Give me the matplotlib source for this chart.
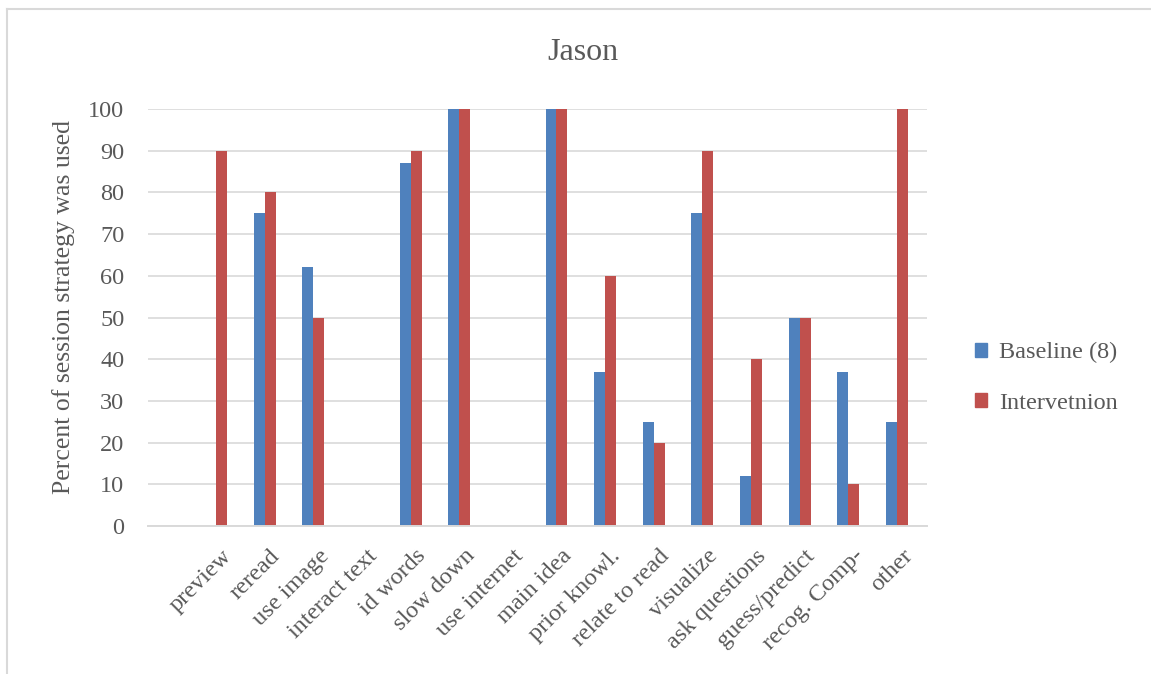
import numpy as np
import matplotlib.pyplot as plt
from matplotlib.lines import Line2D
from matplotlib.patches import Patch

# strategy categories and percent of sessions each was used
strategies = ['preview', 'reread', 'use image', 'interact text', 'id words',
              'slow down', 'use internet', 'main idea', 'prior knowl.',
              'relate to read', 'visualize', 'ask questions', 'guess/predict',
              'recog. Comp-', 'other']
baseline = [0, 75, 62, 0, 87, 100, 0, 100, 37, 25, 75, 12, 50, 37, 25]
intervention = [90, 80, 50, 0, 90, 100, 0, 100, 60, 20, 90, 40, 50, 10, 100]
yticks = list(range(0, 101, 10))

blue = '#4F81BD'
red = '#C0504D'
grey_txt = '#595959'
grid_col = '#D9D9D9'

plt.rcParams['font.family'] = ['Liberation Serif', 'DejaVu Serif']

fig = plt.figure(figsize=(11.51, 6.74), dpi=100)
ax = fig.add_axes([148/1151, 148/674, 779/1151, 417/674])

index = np.arange(len(strategies))
bar_width = 0.225

ax.bar(index - bar_width/2, baseline, bar_width, color=blue, label='Baseline (8)')
ax.bar(index + bar_width/2, intervention, bar_width, color=red, label='Intervetnion')

ax.set_xlim(-1.40, 14.62)
ax.set_ylim(0, 100)
ax.set_yticks(yticks)
ax.yaxis.grid(True, color=grid_col, linewidth=1.2)
ax.set_axisbelow(True)
for side in ['top', 'right', 'left']:
    ax.spines[side].set_visible(False)
ax.spines['bottom'].set_color(grid_col)
ax.spines['bottom'].set_linewidth(1.4)

ax.tick_params(axis='y', length=0, pad=17, labelsize=17.5, labelcolor=grey_txt)
ax.tick_params(axis='x', length=0, pad=14, labelsize=17.5, labelcolor=grey_txt)
ax.set_xticks(index + 0.1)
ax.set_xticklabels(strategies, rotation=45, ha='right', rotation_mode='anchor')

ax.set_ylabel('Percent of session strategy was used', fontsize=18.5,
              color=grey_txt)
ax.yaxis.set_label_coords(-0.094, 0.525)
fig.text(583/1151, 1 - 52/674, 'Jason', fontsize=23, color=grey_txt,
         ha='center', va='center')

handles = [Patch(color=blue), Patch(color=red)]
fig.legend(handles, ['Baseline (8)', 'Intervetnion'], loc='center left',
           bbox_to_anchor=(953/1151, 1 - 378/674), frameon=False,
           fontsize=17.5, labelcolor=grey_txt, handlelength=0.5,
           handleheight=0.5, handletextpad=0.5, labelspacing=1.2)

# chart frame (top and left edges)
fig.add_artist(Line2D([7/1151, 1], [1 - 9/674, 1 - 9/674], color=grid_col,
                      linewidth=1.5, transform=fig.transFigure))
fig.add_artist(Line2D([7/1151, 7/1151], [0, 1 - 9/674], color=grid_col,
                      linewidth=1.5, transform=fig.transFigure))

fig.savefig('out.png', dpi=100)
